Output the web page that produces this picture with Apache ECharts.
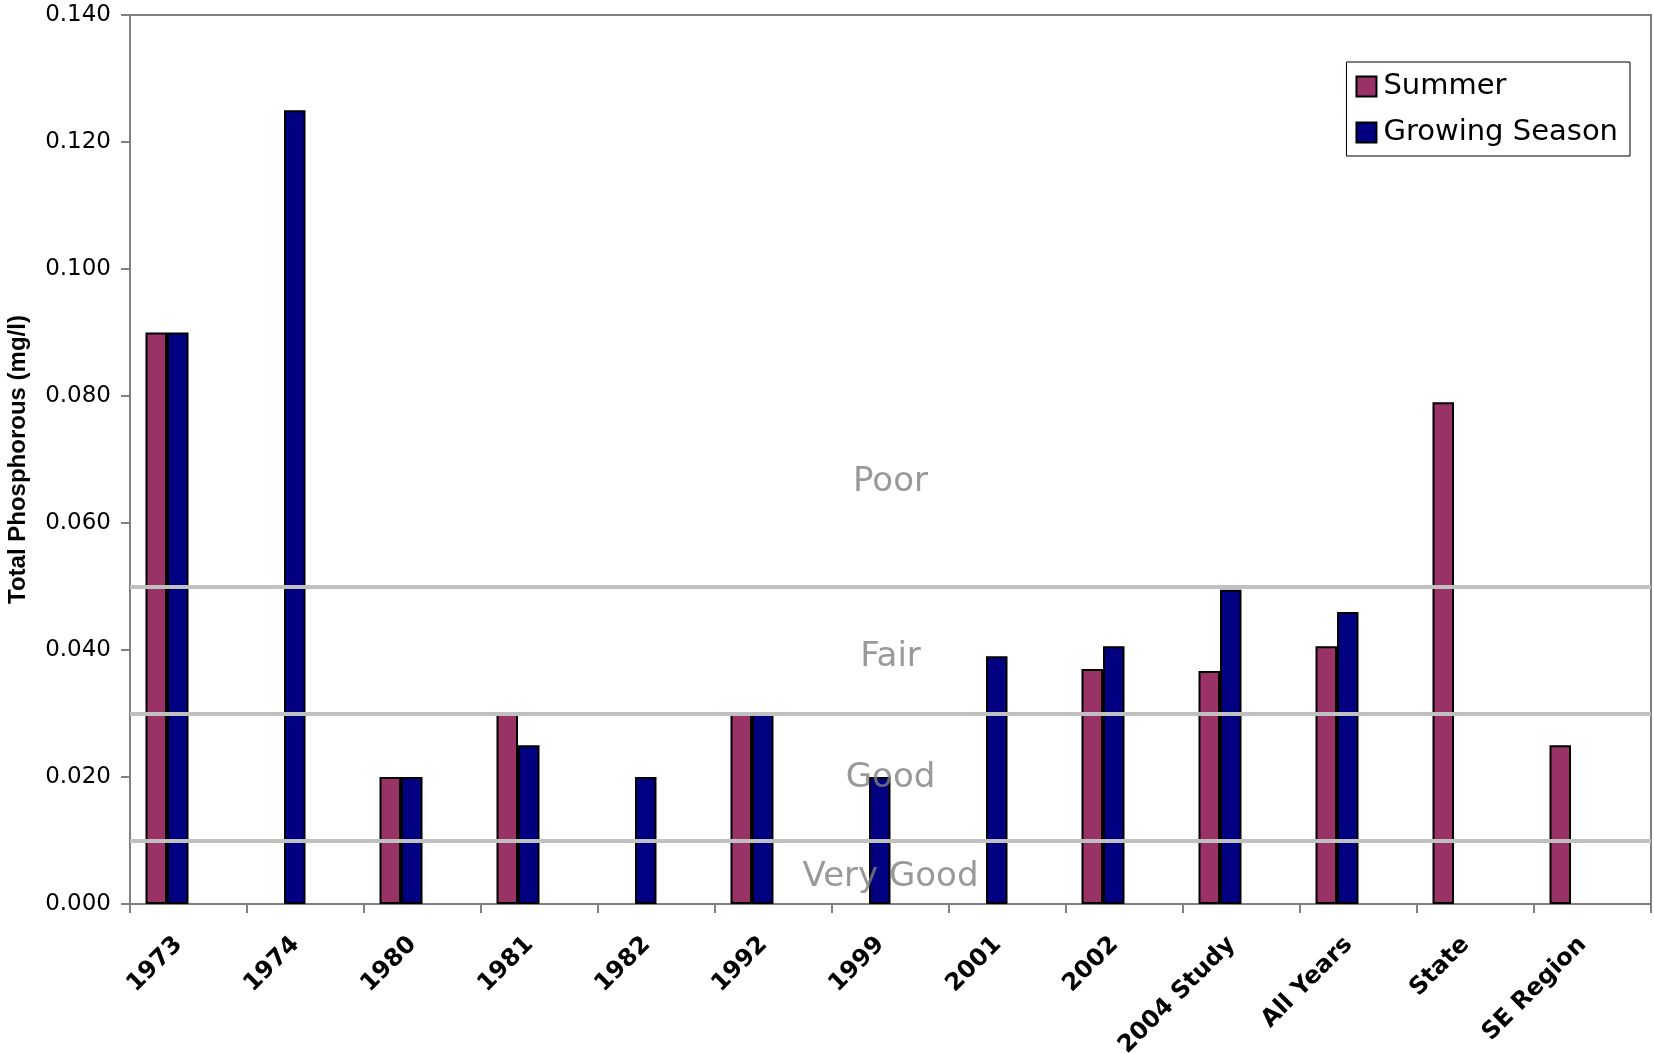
<!DOCTYPE html>
<html>
<head>
<meta charset="utf-8">
<script src="https://cdn.jsdelivr.net/npm/echarts@6/dist/echarts.min.js"></script>
<style>
html,body{margin:0;padding:0;background:#fff;}
#chart{width:1654px;height:1054px;}
</style>
</head>
<body>
<div id="chart"></div>
<script>
var categories = ['1973','1974','1980','1981','1982','1992','1999','2001','2002','2004 Study','All Years','State','SE Region'];
var summer = [0.090, null, 0.020, 0.030, null, 0.030, null, null, 0.037, 0.0367, 0.0406, 0.079, 0.025];
var growingSeason = [0.090, 0.125, 0.020, 0.025, 0.020, 0.030, 0.020, 0.039, 0.0406, 0.0495, 0.046, null, null];
var yTicks = [0, 0.02, 0.04, 0.06, 0.08, 0.10, 0.12, 0.14];
var bandLines = [0.05, 0.03, 0.01];
var bandNames = ['Poor', 'Fair', 'Good', 'Very Good'];
var bandLabelY = [0.0664, 0.0389, 0.0198, 0.0043];
var bandLabelCategory = '1999';

var chart = echarts.init(document.getElementById('chart'), null, {renderer: 'canvas'});
var font = 'Liberation Sans, Arial, sans-serif';
var wide = 'DejaVu Sans, Liberation Sans, sans-serif';

var barBase = {
  type: 'bar',
  barGap: '0%',
  barCategoryGap: '26.5%',
  z: 2,
  itemStyle: {borderColor: '#000', borderWidth: 2}
};

var option = {
  backgroundColor: '#fff',
  animation: false,
  textStyle: {fontFamily: font},
  grid: {left: 130, top: 15, right: 3, bottom: 150, show: true, borderColor: '#808080', borderWidth: 2, backgroundColor: '#fff', containLabel: false, outerBoundsMode: 'none'},
  legend: {
    data: ['Summer', 'Growing Season'],
    orient: 'vertical',
    right: 24,
    top: 62,
    padding: [10, 12, 9, 9],
    itemGap: 17,
    itemWidth: 20,
    itemHeight: 20,
    icon: 'rect',
    backgroundColor: '#fff',
    borderColor: '#000',
    borderWidth: 1,
    textStyle: {fontSize: 29, color: '#000', fontFamily: wide, padding: [0, 0, 0, 2]}
  },
  xAxis: {
    type: 'category',
    data: categories,
    axisLine: {lineStyle: {color: '#808080', width: 2}},
    axisTick: {show: true, length: 9, lineStyle: {color: '#808080', width: 2}},
    axisLabel: {rotate: 45, fontSize: 24, fontWeight: 'bold', color: '#000', margin: 27, fontFamily: wide, padding: [0, 14, 0, 0]}
  },
  yAxis: {
    type: 'value',
    min: 0,
    max: 0.14,
    interval: 0.02,
    name: 'Total Phosphorous (mg/l)',
    nameLocation: 'middle',
    nameGap: 100,
    nameRotate: 90,
    nameTextStyle: {fontSize: 24, fontWeight: 'bold', color: '#000', fontFamily: font},
    axisLine: {show: true, lineStyle: {color: '#808080', width: 2}},
    axisTick: {show: true, length: 9, lineStyle: {color: '#808080', width: 2}},
    splitLine: {show: false},
    axisLabel: {fontSize: 23, color: '#000', margin: 19, fontFamily: wide,
      formatter: function (v) { return v.toFixed(3); }}
  },
  series: [
    Object.assign({}, barBase, {name: 'Summer', data: summer, itemStyle: {color: '#993366', borderColor: '#000', borderWidth: 2}}),
    Object.assign({}, barBase, {name: 'Growing Season', data: growingSeason, itemStyle: {color: '#000080', borderColor: '#000', borderWidth: 2}}),
    Object.assign({}, barBase, {name: 'blank1', data: categories.map(function(){return null;})}),
    Object.assign({}, barBase, {name: 'blank2', data: categories.map(function(){return null;})}),
    {
      type: 'scatter',
      name: 'bands',
      z: 5,
      symbolSize: 0,
      data: bandNames.map(function (n, i) { return {value: [bandLabelCategory, bandLabelY[i]], name: n}; }),
      label: {show: true, position: 'inside', formatter: '{b}', fontSize: 34, color: '#808080', fontFamily: wide},
      markLine: {
        silent: true,
        symbol: ['none', 'none'],
        label: {show: false},
        lineStyle: {color: '#C0C0C0', width: 4, type: 'solid'},
        data: bandLines.map(function (v) { return {yAxis: v}; })
      }
    }
  ]
};
chart.setOption(option);
</script>
</body>
</html>
